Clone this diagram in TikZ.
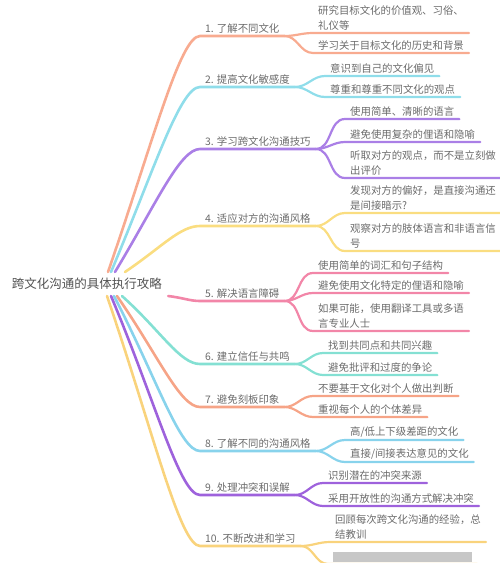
\documentclass[tikz,border=0pt]{standalone}
\usepackage{fontspec}
\setmainfont{Noto Sans CJK SC}
\usetikzlibrary{calc}
\definecolor{c1}{HTML}{F8AB90}
\definecolor{c2}{HTML}{8FDDEA}
\definecolor{c3}{HTML}{AA7FE6}
\definecolor{c4}{HTML}{FADD80}
\definecolor{c5}{HTML}{F286A8}
\definecolor{c6}{HTML}{84E0D3}
\definecolor{c7}{HTML}{F6A487}
\definecolor{c8}{HTML}{88D3EC}
\definecolor{c9}{HTML}{9E62DC}
\definecolor{c10}{HTML}{F9D37C}
\begin{document}
\begin{tikzpicture}[x=1pt,y=-1pt,line cap=round,
  txt/.style={text=black!58,font=\fontsize{10.4}{15}\selectfont,align=left,
    anchor=south west,inner xsep=5pt,inner ysep=2pt},
  trunk/.style={line width=2.6pt},
  twig/.style={line width=2.2pt}]
\useasboundingbox (0,0) rectangle (500,563);
%%
  % Node: root
  \node[text=black!68,font=\fontsize{12.5}{15}\selectfont,inner xsep=0pt,inner ysep=6pt] (root) at (87,284) {跨文化沟通的具体执行攻略};
  % Node: b1 .. b10
  \node[txt] (b1) at (200,36) {1. 了解不同文化};
  \node[txt] (b2) at (200,87) {2. 提高文化敏感度};
  \node[txt] (b3) at (200,149) {3. 学习跨文化沟通技巧};
  \node[txt] (b4) at (200,226) {4. 适应对方的沟通风格};
  \node[txt] (b5) at (200,301) {5. 解决语言障碍};
  \node[txt] (b6) at (200,364) {6. 建立信任与共鸣};
  \node[txt] (b7) at (200,407) {7. 避免刻板印象};
  \node[txt] (b8) at (200,451) {8. 了解不同的沟通风格};
  \node[txt] (b9) at (200,495) {9. 处理冲突和误解};
  \node[txt] (b10) at (200,546) {10. 不断改进和学习};
  % Node: leaves
  \node[txt] (l1a) at (313,33) {研究目标文化的价值观、习俗、\\礼仪等};
  \node[txt] (l1b) at (313,53) {学习关于目标文化的历史和背景};
  \node[txt] (l2a) at (325,76) {意识到自己的文化偏见};
  \node[txt] (l2b) at (325,97) {尊重和尊重不同文化的观点};
  \node[txt] (l3a) at (345,119) {使用简单、清晰的语言};
  \node[txt] (l3b) at (345,142) {避免使用复杂的俚语和隐喻};
  \node[txt] (l3c) at (345,178) {听取对方的观点，而不是立刻做\\出评价};
  \node[txt] (l4a) at (345,213) {发现对方的偏好，是直接沟通还\\是间接暗示?};
  \node[txt] (l4b) at (345,251) {观察对方的肢体语言和非语言信\\号};
  \node[txt] (l5a) at (313,273) {使用简单的词汇和句子结构};
  \node[txt] (l5b) at (313,293) {避免使用文化特定的俚语和隐喻};
  \node[txt] (l5c) at (313,331) {如果可能，使用翻译工具或多语\\言专业人士};
  \node[txt] (l6a) at (323,353) {找到共同点和共同兴趣};
  \node[txt] (l6b) at (323,375) {避免批评和过度的争论};
  \node[txt] (l7a) at (313,396) {不要基于文化对个人做出判断};
  \node[txt] (l7b) at (313,417) {重视每个人的个体差异};
  \node[txt] (l8a) at (345,440) {高/低上下级差距的文化};
  \node[txt] (l8b) at (345,462) {直接/间接表达意见的文化};
  \node[txt] (l9a) at (323,483) {识别潜在的冲突来源};
  \node[txt] (l9b) at (323,506) {采用开放性的沟通方式解决冲突};
  \node[txt] (l10a) at (330,542) {回顾每次跨文化沟通的经验，总\\结教训};
  \node[txt] (l10b) at (328,564) {\color{black!22}\rule{139pt}{10pt}};
%%
  % Edge: root -> b1
  \draw[trunk,c1] ($(root.north)+(21,0)$) .. controls +(45,-130) and +(-20,0) .. (b1.south west) -- (b1.south east);
  \draw[twig,c1] (b1.south east) to[out=0,in=180] (l1a.south west) -- (l1a.south east);
  \draw[twig,c1] (b1.south east) to[out=0,in=180] (l1b.south west) -- (l1b.south east);
  % Edge: root -> b2
  \draw[trunk,c2] ($(root.north)+(24,0)$) .. controls +(43,-102) and +(-20,0) .. (b2.south west) -- (b2.south east);
  \draw[twig,c2] (b2.south east) to[out=0,in=180] (l2a.south west) -- (l2a.south east);
  \draw[twig,c2] (b2.south east) to[out=0,in=180] (l2b.south west) -- (l2b.south east);
  % Edge: root -> b3
  \draw[trunk,c3] ($(root.north)+(28,0)$) .. controls +(41,-68) and +(-20,0) .. (b3.south west) -- (b3.south east);
  \draw[twig,c3] (b3.south east) to[out=0,in=180] (l3a.south west) -- (l3a.south east);
  \draw[twig,c3] (b3.south east) to[out=0,in=180] (l3b.south west) -- (l3b.south east);
  \draw[twig,c3] (b3.south east) to[out=0,in=180] (l3c.south west) -- (l3c.south east);
  % Edge: root -> b4
  \draw[trunk,c4] ($(root.north)+(38,0)$) .. controls +(37,-25) and +(-20,0) .. (b4.south west) -- (b4.south east);
  \draw[twig,c4] (b4.south east) to[out=0,in=180] (l4a.south west) -- (l4a.south east);
  \draw[twig,c4] (b4.south east) to[out=0,in=180] (l4b.south west) -- (l4b.south east);
  % Edge: root -> b5
  \draw[trunk,c5] ($(root.south east)+(6,0)$) .. controls +(16,2) and +(-10,0) .. (b5.south west) -- (b5.south east);
  \draw[twig,c5] (b5.south east) to[out=0,in=180] (l5a.south west) -- (l5a.south east);
  \draw[twig,c5] (b5.south east) to[out=0,in=180] (l5b.south west) -- (l5b.south east);
  \draw[twig,c5] (b5.south east) to[out=0,in=180] (l5c.south west) -- (l5c.south east);
  % Edge: root -> b6
  \draw[trunk,c6] ($(root.south)+(35,0)$) .. controls +(39,35) and +(-20,0) .. (b6.south west) -- (b6.south east);
  \draw[twig,c6] (b6.south east) to[out=0,in=180] (l6a.south west) -- (l6a.south east);
  \draw[twig,c6] (b6.south east) to[out=0,in=180] (l6b.south west) -- (l6b.south east);
  % Edge: root -> b7
  \draw[trunk,c7] ($(root.south)+(30,0)$) .. controls +(41,59) and +(-20,0) .. (b7.south west) -- (b7.south east);
  \draw[twig,c7] (b7.south east) to[out=0,in=180] (l7a.south west) -- (l7a.south east);
  \draw[twig,c7] (b7.south east) to[out=0,in=180] (l7b.south west) -- (l7b.south east);
  % Edge: root -> b8
  \draw[trunk,c8] ($(root.south)+(27,0)$) .. controls +(43,83) and +(-20,0) .. (b8.south west) -- (b8.south east);
  \draw[twig,c8] (b8.south east) to[out=0,in=180] (l8a.south west) -- (l8a.south east);
  \draw[twig,c8] (b8.south east) to[out=0,in=180] (l8b.south west) -- (l8b.south east);
  % Edge: root -> b9
  \draw[trunk,c9] ($(root.south)+(24,0)$) .. controls +(45,107) and +(-20,0) .. (b9.south west) -- (b9.south east);
  \draw[twig,c9] (b9.south east) to[out=0,in=180] (l9a.south west) -- (l9a.south east);
  \draw[twig,c9] (b9.south east) to[out=0,in=180] (l9b.south west) -- (l9b.south east);
  % Edge: root -> b10
  \draw[trunk,c10] ($(root.south)+(20,0)$) .. controls +(46,135) and +(-20,0) .. (b10.south west) -- (b10.south east);
  \draw[twig,c10] (b10.south east) to[out=0,in=180] (l10a.south west) -- (l10a.south east);
  \draw[twig,c10] (b10.south east) to[out=0,in=180] (l10b.south west) -- (l10b.south east);
%
\end{tikzpicture}
\end{document}
